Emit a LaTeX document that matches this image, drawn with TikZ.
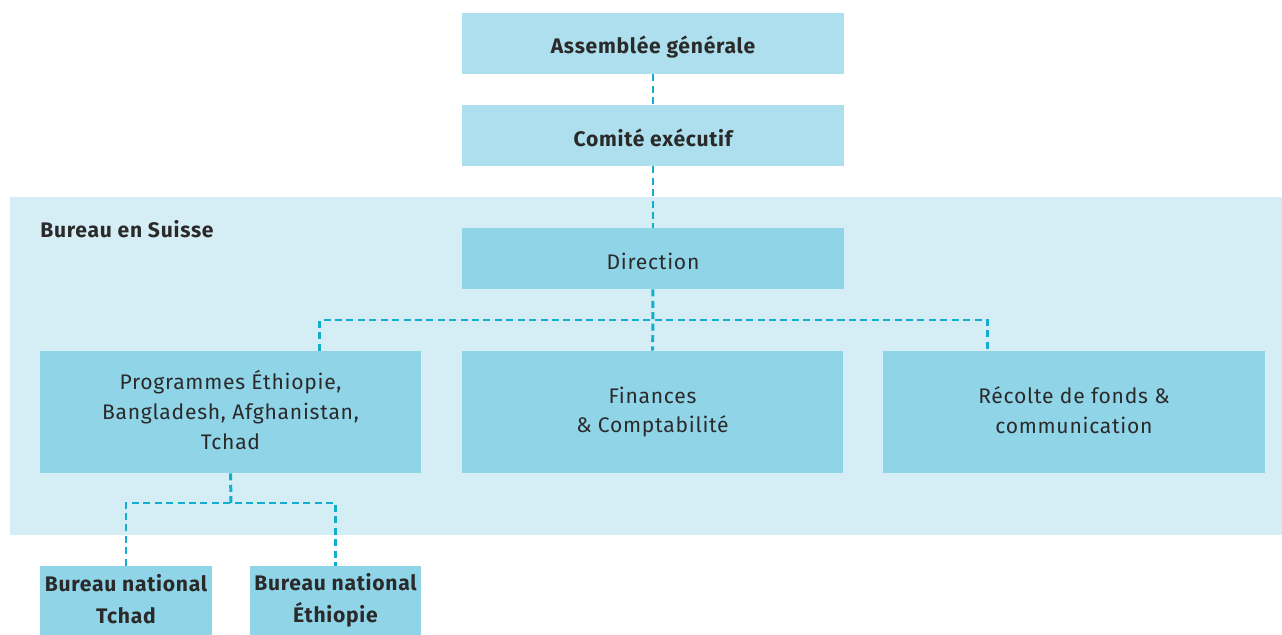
\documentclass[tikz,border=0pt]{standalone}
\usepackage{fontspec}
\setmainfont{Fira Sans}[LetterSpace=3.5]
\definecolor{paleblue}{HTML}{ADDFEE}
\definecolor{midblue}{HTML}{90D4E8}
\definecolor{areablue}{HTML}{D5EEF5}
\definecolor{linkblue}{HTML}{12AECF}
\definecolor{inkgray}{HTML}{2A2A2A}
\newcommand{\boxstrut}{\rule[-2pt]{0pt}{16pt}}

\begin{document}
\begin{tikzpicture}[x=0.02cm,y=-0.02cm,
  every node/.style={text=inkgray, align=center, inner sep=0pt,
    font=\fontsize{12}{17}\selectfont,
    execute at begin node={\boxstrut}, execute at end node={\boxstrut}},
  topbox/.style={fill=paleblue, minimum width=7.64cm, minimum height=1.22cm,
    font=\fontsize{12}{17}\selectfont\bfseries},
  unitbox/.style={fill=midblue, minimum width=7.64cm, minimum height=1.22cm},
  deptbox/.style={fill=midblue, minimum width=7.64cm, minimum height=2.44cm},
  localbox/.style={fill=midblue, minimum width=3.44cm, minimum height=1.38cm,
    font=\fontsize{12}{18}\selectfont\bfseries},
  link/.style={draw=linkblue, line width=1.7pt, dash pattern=on 4pt off 2.5pt}]
  \useasboundingbox (0,0) rectangle (1282,635);
  % office area
  \fill[areablue] (10,197) rectangle (1282,535);
  \node[anchor=base west, font=\fontsize{12}{17}\selectfont\bfseries]
    (suisse) at (40,237) {Bureau en Suisse};
  % boxes
  \node[topbox] (assemblee) at (653,43.5) {Assemblée générale};
  \node[topbox] (comite) at (653,135.5) {Comité exécutif};
  \node[unitbox] (direction) at (653,258.5) {Direction};
  \node[deptbox] (programmes) at (230.5,412)
    {Programmes Éthiopie,\\Bangladesh, Afghanistan,\\Tchad};
  \node[deptbox] (finances) at (652.5,412) {Finances\\\&\ Comptabilité};
  \node[deptbox] (recolte) at (1074,412) {Récolte de fonds \&\\communication};
  \node[localbox] (tchad) at (126,600.5) {Bureau national\\Tchad};
  \node[localbox] (ethiopie) at (335.5,600.5) {Bureau national\\Éthiopie};
  % links
  \coordinate (split) at (653,320);
  \coordinate (subsplit) at (231,503);
  \draw[link] (assemblee) -- (comite);
  \draw[link] (comite) -- (direction);
  \draw[link] (direction) -- (finances);
  \draw[link] ([xshift=1.79cm]programmes.north) |- (split)
    -| ([xshift=-1.74cm]recolte.north);
  \draw[link] (programmes.south) -- (subsplit);
  \draw[link] (tchad.north) |- (subsplit) -| (ethiopie.north);
\end{tikzpicture}
\end{document}
